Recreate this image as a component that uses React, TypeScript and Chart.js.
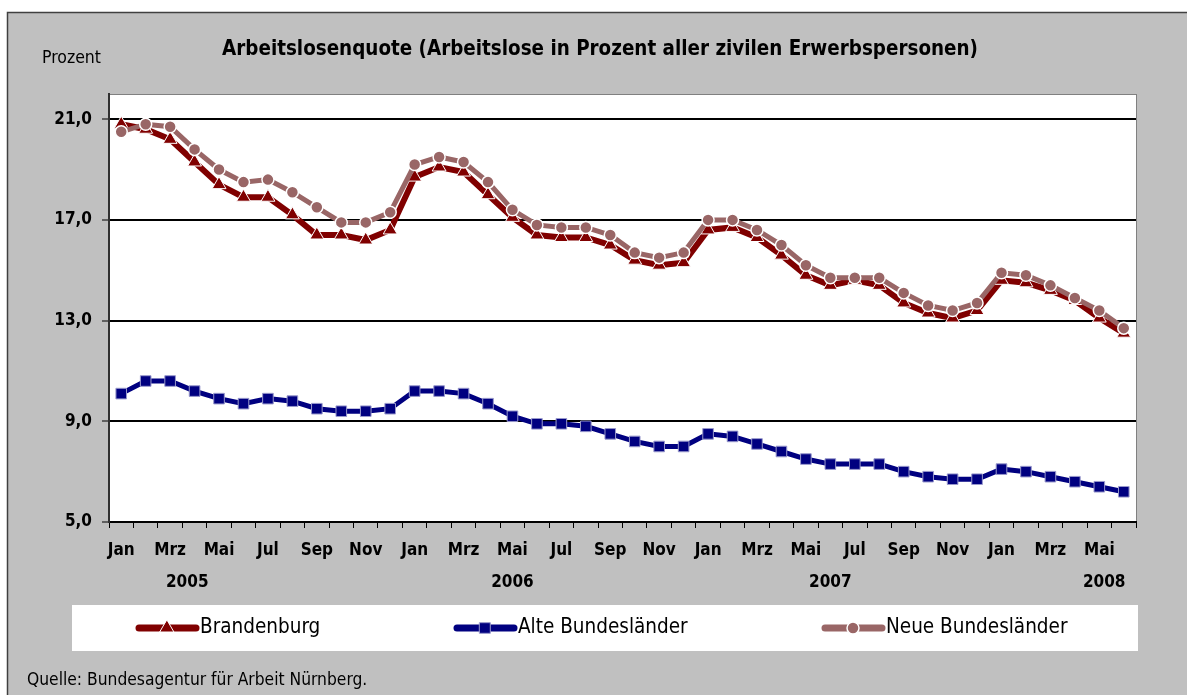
import React, { useEffect, useRef } from "react";
import { Chart, registerables } from "chart.js";

Chart.register(...registerables);

const monthNames = ["Jan", "Feb", "Mrz", "Apr", "Mai", "Jun", "Jul", "Aug", "Sep", "Okt", "Nov", "Dez"];
const years = [2005, 2006, 2007, 2008];
const monthsInData = 42;
const categories: string[] = [];
for (let i = 0; i < monthsInData; i++) categories.push(monthNames[i % 12]);

const brandenburg = [20.8, 20.6, 20.2, 19.3, 18.4, 17.9, 17.9, 17.2, 16.4, 16.4, 16.2, 16.6, 18.7, 19.1, 18.9, 18.0, 17.1, 16.4, 16.3, 16.3, 16.0, 15.4, 15.2, 15.3, 16.6, 16.7, 16.3, 15.6, 14.8, 14.4, 14.6, 14.4, 13.7, 13.3, 13.1, 13.4, 14.6, 14.5, 14.2, 13.8, 13.1, 12.5];
const alteBundeslaender = [10.1, 10.6, 10.6, 10.2, 9.9, 9.7, 9.9, 9.8, 9.5, 9.4, 9.4, 9.5, 10.2, 10.2, 10.1, 9.7, 9.2, 8.9, 8.9, 8.8, 8.5, 8.2, 8.0, 8.0, 8.5, 8.4, 8.1, 7.8, 7.5, 7.3, 7.3, 7.3, 7.0, 6.8, 6.7, 6.7, 7.1, 7.0, 6.8, 6.6, 6.4, 6.2];
const neueBundeslaender = [20.5, 20.8, 20.7, 19.8, 19.0, 18.5, 18.6, 18.1, 17.5, 16.9, 16.9, 17.3, 19.2, 19.5, 19.3, 18.5, 17.4, 16.8, 16.7, 16.7, 16.4, 15.7, 15.5, 15.7, 17.0, 17.0, 16.6, 16.0, 15.2, 14.7, 14.7, 14.7, 14.1, 13.6, 13.4, 13.7, 14.9, 14.8, 14.4, 13.9, 13.4, 12.7];

const yTicks = [5, 9, 13, 17, 21];
const yearLabels = years.map(String);
// month index (fractional) under which each year label is centred
const yearLabelAt = [2.7, 16.0, 29.0, 40.2];

const titleText = "Arbeitslosenquote (Arbeitslose in Prozent aller zivilen Erwerbspersonen)";
const yUnitText = "Prozent";
const sourceText = "Quelle: Bundesagentur für Arbeit Nürnberg.";

const FONT = "'Liberation Sans Narrow', 'Arial Narrow', 'DejaVu Sans Condensed', sans-serif";

function drawMarker(ctx: CanvasRenderingContext2D, style: string, r: number, x: number, y: number) {
  ctx.beginPath();
  if (style === "triangle") {
    let rad = 0;
    ctx.moveTo(x + Math.sin(rad) * r, y - Math.cos(rad) * r);
    rad += (2 * Math.PI) / 3;
    ctx.lineTo(x + Math.sin(rad) * r, y - Math.cos(rad) * r);
    rad += (2 * Math.PI) / 3;
    ctx.lineTo(x + Math.sin(rad) * r, y - Math.cos(rad) * r);
    ctx.closePath();
  } else if (style === "rect") {
    const s = r * Math.SQRT1_2;
    ctx.rect(x - s, y - s, 2 * s, 2 * s);
  } else {
    ctx.arc(x, y, r, 0, Math.PI * 2);
  }
  ctx.fill();
  ctx.stroke();
}

const decorPlugin = {
  id: "decor",
  beforeDraw(chart: any) {
    const { ctx, width, height, chartArea } = chart;
    ctx.save();
    ctx.fillStyle = "#ffffff";
    ctx.fillRect(0, 0, width, height);
    ctx.fillStyle = "#c0c0c0";
    ctx.fillRect(7, 12, width, height);
    ctx.strokeStyle = "#404040";
    ctx.lineWidth = 1.5;
    ctx.strokeRect(7.5, 12.5, width + 10, height + 10);
    ctx.fillStyle = "#ffffff";
    ctx.fillRect(chartArea.left, chartArea.top, chartArea.right - chartArea.left, chartArea.bottom - chartArea.top);
    ctx.strokeStyle = "#808080";
    ctx.lineWidth = 1;
    ctx.strokeRect(chartArea.left + 0.5, chartArea.top + 0.5, chartArea.right - chartArea.left, chartArea.bottom - chartArea.top);
    ctx.restore();
  },
  afterDraw(chart: any) {
    const { ctx } = chart;
    const xScale = chart.scales.x;
    ctx.save();
    ctx.fillStyle = "#000";
    ctx.textBaseline = "middle";
    ctx.font = `bold 20.4px ${FONT}`;
    ctx.textAlign = "center";
    ctx.fillText(titleText, 600, 50);
    ctx.font = `17.5px ${FONT}`;
    ctx.textAlign = "left";
    ctx.fillText(yUnitText, 42, 58);
    ctx.font = `bold 17px ${FONT}`;
    ctx.textAlign = "center";
    yearLabels.forEach((t, i) => {
      ctx.fillText(t, xScale.getPixelForValue(yearLabelAt[i]), 583);
    });
    ctx.fillStyle = "#ffffff";
    ctx.fillRect(72, 605, 1066, 46);
    const items = [
      { ds: chart.data.datasets[0], x: 137 },
      { ds: chart.data.datasets[1], x: 455 },
      { ds: chart.data.datasets[2], x: 823 },
    ];
    const ly = 628;
    items.forEach(({ ds, x }) => {
      ctx.strokeStyle = ds.borderColor;
      ctx.lineWidth = 7;
      ctx.lineCap = "round";
      ctx.beginPath();
      ctx.moveTo(x + 2, ly);
      ctx.lineTo(x + 59, ly);
      ctx.stroke();
      ctx.fillStyle = ds.pointBackgroundColor;
      ctx.strokeStyle = ds.pointBorderColor;
      ctx.lineWidth = ds.pointBorderWidth;
      drawMarker(ctx, ds.pointStyle, ds.pointRadius, x + 30, ly);
      ctx.fillStyle = "#000";
      ctx.font = `20.5px ${FONT}`;
      ctx.textAlign = "left";
      ctx.fillText(ds.label, x + 63, ly);
    });
    ctx.fillStyle = "#000";
    ctx.font = `17.3px ${FONT}`;
    ctx.textAlign = "left";
    ctx.fillText(sourceText, 27, 681);
    ctx.restore();
  },
};

export default function App() {
  const canvasRef = useRef<HTMLCanvasElement | null>(null);

  useEffect(() => {
    if (!canvasRef.current) return;
    const chart = new Chart(canvasRef.current, {
      type: "line",
      data: {
        labels: categories,
        datasets: [
          {
            label: "Brandenburg",
            data: brandenburg,
            borderColor: "#800000",
            backgroundColor: "#800000",
            borderWidth: 6,
            pointStyle: "triangle",
            pointRadius: 8,
            pointBackgroundColor: "#800000",
            pointBorderColor: "#ffffff",
            pointBorderWidth: 1,
            order: 2,
          },
          {
            label: "Alte Bundesländer",
            data: alteBundeslaender,
            borderColor: "#000080",
            backgroundColor: "#000080",
            borderWidth: 5,
            pointStyle: "rect",
            pointRadius: 7.5,
            pointBackgroundColor: "#000080",
            pointBorderColor: "#9999cc",
            pointBorderWidth: 1,
            order: 1,
          },
          {
            label: "Neue Bundesländer",
            data: neueBundeslaender,
            borderColor: "#996666",
            backgroundColor: "#996666",
            borderWidth: 5,
            pointStyle: "circle",
            pointRadius: 6,
            pointBackgroundColor: "#996666",
            pointBorderColor: "#ffffff",
            pointBorderWidth: 1.5,
            order: 0,
          },
        ] as any,
      },
      options: {
        animation: false,
        responsive: false,
        maintainAspectRatio: false,
        layout: { padding: { left: 0, top: 94, right: 51, bottom: 0 } },
        plugins: {
          legend: { display: false },
          title: { display: false },
          tooltip: { enabled: false },
        },
        elements: { line: { tension: 0 } },
        scales: {
          x: {
            type: "category",
            offset: true,
            grid: {
              display: true,
              drawOnChartArea: false,
              drawTicks: true,
              tickLength: 6,
              offset: true,
              color: "#000",
              lineWidth: 1,
            },
            border: { display: true, color: "#000", width: 2 },
            ticks: {
              autoSkip: false,
              maxRotation: 0,
              minRotation: 0,
              padding: 12,
              color: "#000",
              font: { family: FONT, size: 17, weight: "bold" },
              callback: (_v: any, i: number) => (i % 2 === 0 ? categories[i] : ""),
            },
            afterFit: (scale: any) => {
              scale.height = 173;
            },
          },
          y: {
            min: 5,
            max: 22,
            afterBuildTicks: (scale: any) => {
              scale.ticks = yTicks.map((v) => ({ value: v }));
            },
            grid: {
              color: "#000",
              lineWidth: 2,
              drawTicks: true,
              tickLength: 7,
              tickColor: "#000",
              tickWidth: 1,
            },
            border: { display: true, color: "#303030", width: 2 },
            ticks: {
              padding: 10,
              color: "#000",
              font: { family: FONT, size: 17, weight: "bold" },
              callback: (v: any) => Number(v).toFixed(1).replace(".", ","),
            },
            afterFit: (scale: any) => {
              scale.width = 109;
            },
          },
        },
      } as any,
      plugins: [decorPlugin],
    });
    return () => chart.destroy();
  }, []);

  return (
    <div style={{ position: "absolute", left: 0, top: 0, width: 1187, height: 695 }}>
      <canvas ref={canvasRef} width={1187} height={695} style={{ width: 1187, height: 695, display: "block" }} />
    </div>
  );
}
